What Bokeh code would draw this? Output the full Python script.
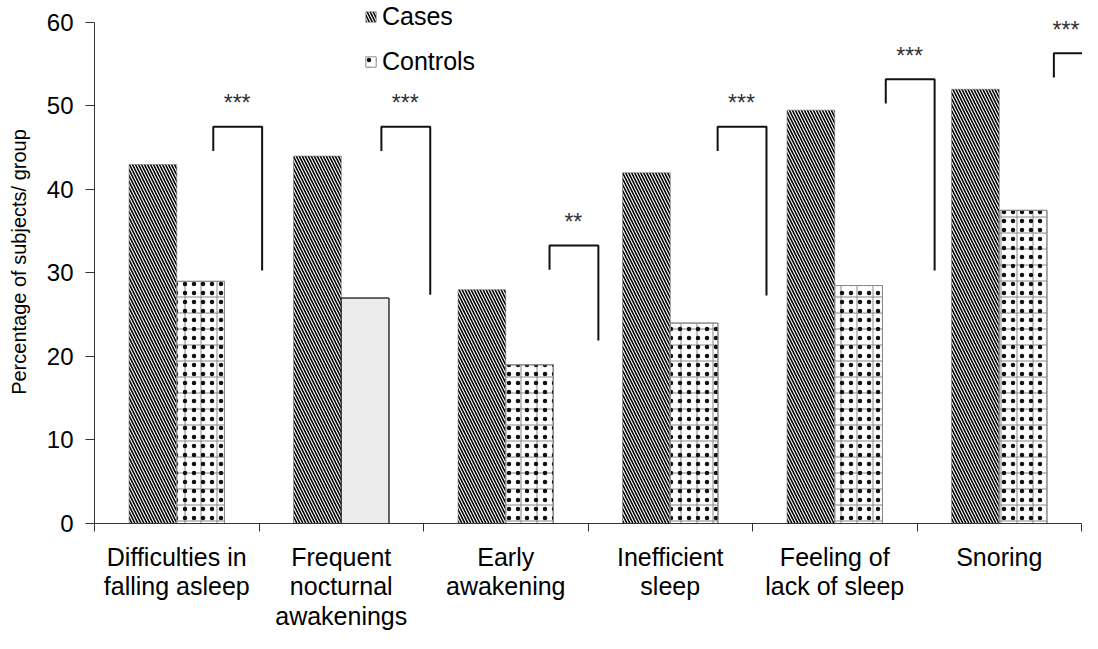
from bokeh.plotting import figure
from bokeh.models import Range1d, FixedTicker, ColumnDataSource, Legend, LegendItem
from bokeh.embed import file_html
from bokeh.resources import INLINE
from bokeh.core.properties import value

# ---------------- data ----------------
categories = ["Difficulties in\nfalling asleep", "Frequent\nnocturnal\nawakenings",
              "Early\nawakening", "Inefficient\nsleep", "Feeling of\nlack of sleep", "Snoring"]
cases = [43, 44, 28, 42, 49.5, 52]
controls = [29, 27, 19, 24, 28.5, 37.5]
control_patterned = [True, False, True, True, True, True]
significance = ["***", "***", "**", "***", "***", "***"]
bracket_top = [47.5, 47.5, 33.3, 47.5, 53.2, 56.3]
bracket_right_end = [30.3, 27.4, 21.9, 27.3, 30.3, 45.0]
y_ticks = [0, 10, 20, 30, 40, 50, 60]

FONT = "Liberation Sans"
n = len(categories)
idx = list(range(n))
BW = 0.29
X_END = 6.006

src = ColumnDataSource(dict(
    x_case=[i + 0.5 - BW / 2 for i in idx],
    x_ctrl=[i + 0.5 + BW / 2 for i in idx],
    cases=cases,
    controls=controls,
    ctrl_fill=["white" if f else "#ececec" for f in control_patterned],
    ctrl_grid=["+" if f else " " for f in control_patterned],
    ctrl_dot=["." if f else " " for f in control_patterned],
    ctrl_line=["#8a8a8a" if f else "#333333" for f in control_patterned],
))

p = figure(frame_width=988, frame_height=523, output_backend="svg", toolbar_location=None,
           x_range=Range1d(0, X_END), y_range=Range1d(0, 62.63),
           min_border_left=94, min_border_right=0, min_border_top=0, min_border_bottom=110)
p.outline_line_color = None
p.grid.visible = False
p.background_fill_color = "white"
p.border_fill_color = "white"

r_case = p.vbar(x="x_case", top="cases", bottom=0, width=BW, source=src,
                fill_color="white", line_color="#777777", line_width=0.6,
                hatch_pattern="left_diagonal_line", hatch_color="black",
                hatch_scale=6, hatch_weight=1.6)
r_grid = p.vbar(x="x_ctrl", top="controls", bottom=0, width=BW, source=src,
                fill_color="ctrl_fill", line_color="ctrl_line", line_width=1,
                hatch_pattern="ctrl_grid", hatch_color="#888888",
                hatch_scale=16, hatch_weight=1)
r_dot = p.vbar(x="x_ctrl", top="controls", bottom=0, width=BW, source=src,
               fill_color=None, line_color="ctrl_line", line_width=1,
               hatch_pattern="ctrl_dot", hatch_color="#111111",
               hatch_scale=9, hatch_weight=0.4)

# significance brackets
lefts = [0.722 + 1.022 * i for i in idx]
rights = [l + 0.297 for l in lefts]
xs = [[l, l, r, r] for l, r in zip(lefts, rights)]
ys = [[t - 2.9, t, t, e] for t, e in zip(bracket_top, bracket_right_end)]
p.multi_line(xs=xs, ys=ys, line_color="#111111", line_width=2)
p.text(x=[min(l + 0.145, X_END - 0.1) for l in lefts], y=[t + 2.8 for t in bracket_top],
       text=significance,
       text_font=value(FONT), text_font_size="23px", text_color="#333333",
       text_align="center", text_baseline="middle")

# axes
ya = p.yaxis[0]
ya.ticker = FixedTicker(ticks=y_ticks, minor_ticks=[])
ya.bounds = (0, 60)
ya.axis_label = "Percentage of subjects/ group"
ya.axis_label_text_font = FONT
ya.axis_label_text_font_style = "normal"
ya.axis_label_text_font_size = "20px"
ya.axis_label_text_color = "black"
ya.axis_label_standoff = 14
ya.major_label_text_font = FONT
ya.major_label_text_font_size = "24px"
ya.major_label_text_color = "black"
ya.major_label_standoff = 12
ya.major_tick_out = 9
ya.major_tick_in = 0
ya.axis_line_color = "#333333"
ya.major_tick_line_color = "#333333"

xa = p.xaxis[0]
xa.ticker = FixedTicker(ticks=[i + 0.5 for i in idx],
                        minor_ticks=[float(i) for i in range(n + 1)])
xa.bounds = (0, n)
xa.major_label_overrides = {i + 0.5: c for i, c in zip(idx, categories)}
xa.major_label_text_font = FONT
xa.major_label_text_font_size = "25px"
xa.major_label_text_color = "black"
xa.major_label_text_line_height = 1.06
xa.major_label_standoff = 11
xa.major_tick_out = 0
xa.major_tick_in = 0
xa.major_tick_line_color = None
xa.minor_tick_out = 8
xa.minor_tick_in = 0
xa.minor_tick_line_color = "#333333"
xa.axis_line_color = "#333333"

legend = Legend(items=[LegendItem(label="Cases", renderers=[r_case]),
                       LegendItem(label="Controls", renderers=[r_dot])],
                location=(270, 447), orientation="vertical",
                glyph_width=13, glyph_height=13, label_height=26, spacing=16,
                padding=0, margin=0, label_standoff=5,
                label_text_font=FONT, label_text_font_size="25px", label_text_color="black",
                border_line_color=None, background_fill_alpha=0)
p.add_layout(legend)

open("out.html", "w").write(file_html(p, INLINE))
